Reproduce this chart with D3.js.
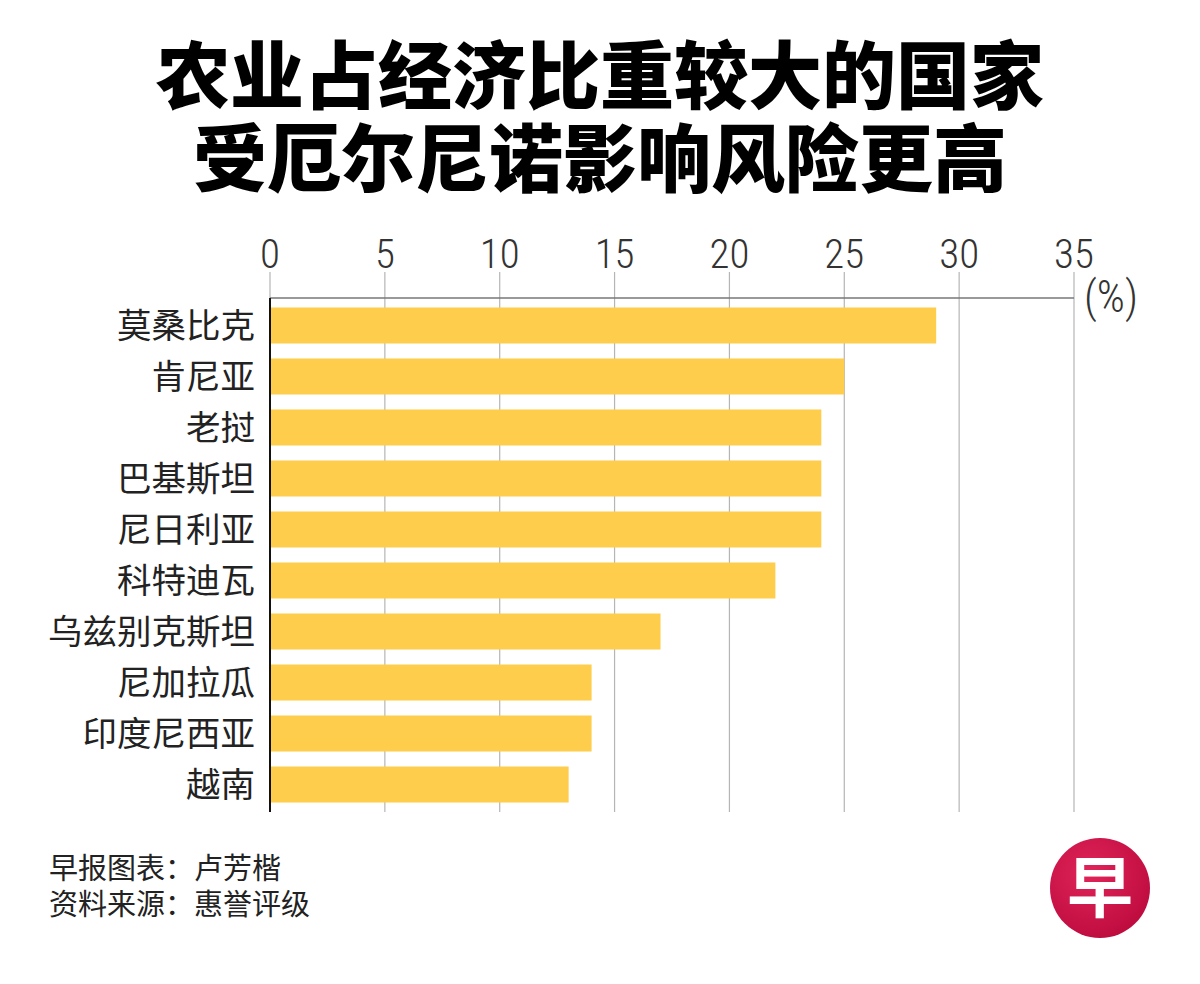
<!DOCTYPE html>
<html>
<head>
<meta charset="utf-8">
<script src="https://d3js.org/d3.v7.min.js"></script>
<style>
  body { margin: 0; background: #fff; }
  svg { display: block; }
  .cjk { font-family: "Noto Sans CJK SC", "Noto Sans", sans-serif; }
  .num { font-family: "Liberation Sans Narrow", "Roboto Condensed", "Liberation Sans", sans-serif; }
</style>
</head>
<body>
<svg id="chart" width="1200" height="984"></svg>
<script>
// data
const titleLines = ["农业占经济比重较大的国家", "受厄尔尼诺影响风险更高"];
const countries = ["莫桑比克", "肯尼亚", "老挝", "巴基斯坦", "尼日利亚", "科特迪瓦", "乌兹别克斯坦", "尼加拉瓜", "印度尼西亚", "越南"];
const shares = [29, 25, 24, 24, 24, 22, 17, 14, 14, 13];
const xTicks = [0, 5, 10, 15, 20, 25, 30, 35];
const unitLabel = "(%)";
const footerLines = ["早报图表：卢芳楷", "资料来源：惠誉评级"];

const svg = d3.select("#chart");
const plotL = 270, plotR = 1074, plotT = 298, plotB = 812;

// title
svg.selectAll(".title").data(titleLines).enter()
  .append("text")
  .attr("class", "title cjk")
  .attr("x", 600)
  .attr("y", (d, i) => 103 + i * 83)
  .attr("text-anchor", "middle")
  .attr("font-size", 74)
  .attr("font-weight", 900)
  .attr("fill", "#000")
  .text(d => d);

const x = d3.scaleLinear().domain([0, 35]).range([plotL, plotR]);
const y = d3.scaleBand().domain(countries).range([plotT, plotB])
  .paddingInner(0.294).paddingOuter(0.186);

// gridlines
svg.append("g").selectAll("line").data(xTicks).enter()
  .append("line")
  .attr("x1", d => x(d)).attr("x2", d => x(d))
  .attr("y1", 272).attr("y2", plotB)
  .attr("stroke", "#b5b5b5")
  .attr("stroke-width", 1.2);

// top axis labels
svg.append("g").selectAll("text").data(xTicks).enter()
  .append("text")
  .attr("class", "num")
  .attr("x", d => x(d))
  .attr("y", 268)
  .attr("text-anchor", "middle")
  .attr("font-size", 41)
  .attr("font-weight", 300)
  .attr("fill", "#333")
  .text(d => d);

svg.append("text")
  .attr("class", "num")
  .attr("x", plotR + 10)
  .attr("y", 312)
  .attr("font-size", 44)
  .attr("font-weight", 300)
  .attr("fill", "#333")
  .text(unitLabel);

// top axis line
svg.append("line")
  .attr("x1", plotL).attr("x2", plotR)
  .attr("y1", plotT).attr("y2", plotT)
  .attr("stroke", "#777").attr("stroke-width", 1.5);

// bars
svg.append("g").selectAll("rect").data(shares).enter()
  .append("rect")
  .attr("x", plotL)
  .attr("y", (d, i) => y(countries[i]))
  .attr("width", d => x(d) - plotL)
  .attr("height", y.bandwidth())
  .attr("fill", "#fdcd4b");

// left axis line
svg.append("line")
  .attr("x1", plotL).attr("x2", plotL)
  .attr("y1", plotT).attr("y2", plotB)
  .attr("stroke", "#111").attr("stroke-width", 2);

// country labels
svg.append("g").selectAll("text").data(countries).enter()
  .append("text")
  .attr("class", "cjk")
  .attr("x", 255)
  .attr("y", d => y(d) + y.bandwidth() / 2)
  .attr("dy", "0.36em")
  .attr("text-anchor", "end")
  .attr("font-size", 34.5)
  .attr("fill", "#222")
  .text(d => d);

// footer
svg.append("g").selectAll("text").data(footerLines).enter()
  .append("text")
  .attr("class", "cjk")
  .attr("x", 49)
  .attr("y", (d, i) => 879 + i * 36)
  .attr("font-size", 29)
  .attr("fill", "#222")
  .text(d => d);

// logo
const grad = svg.append("defs").append("radialGradient")
  .attr("id", "logoGrad").attr("cx", "40%").attr("cy", "35%").attr("r", "70%");
grad.append("stop").attr("offset", "0%").attr("stop-color", "#e0245a");
grad.append("stop").attr("offset", "100%").attr("stop-color", "#bd0b3e");
svg.append("circle")
  .attr("cx", 1100).attr("cy", 888).attr("r", 50)
  .attr("fill", "url(#logoGrad)");
svg.append("text")
  .attr("class", "cjk")
  .attr("x", 1100).attr("y", 888)
  .attr("dy", "0.36em")
  .attr("text-anchor", "middle")
  .attr("font-size", 66)
  .attr("font-weight", 700)
  .attr("fill", "#fff")
  .text("早");
</script>
</body>
</html>
